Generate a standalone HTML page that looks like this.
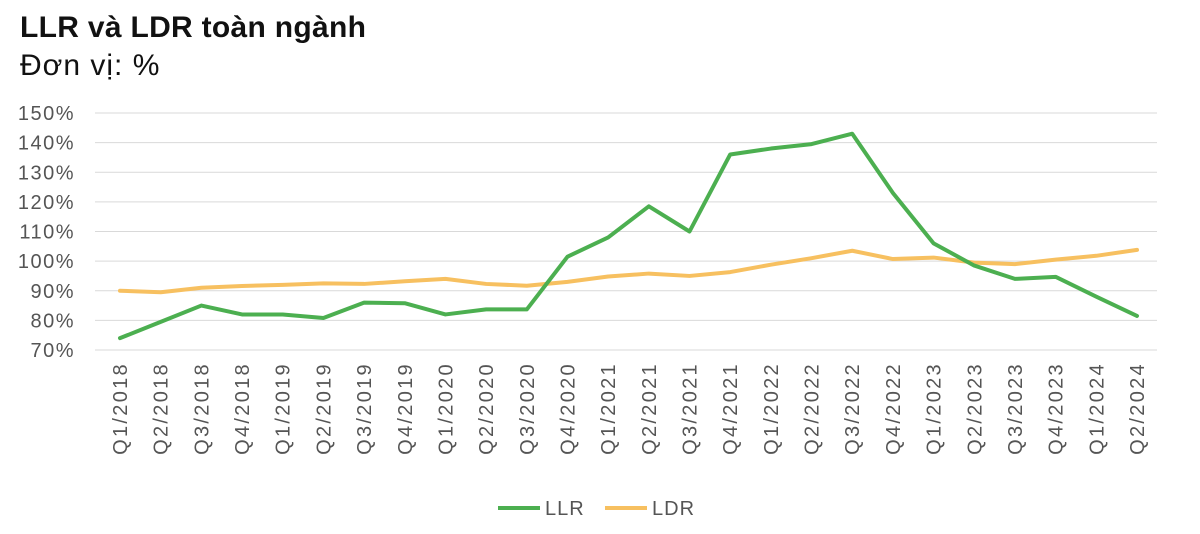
<!DOCTYPE html>
<html><head><meta charset="utf-8"><style>
body{margin:0;background:#fff;font-family:"Liberation Sans",sans-serif;}
#wrap{position:relative;width:1200px;height:534px;overflow:hidden}
.t{position:absolute;left:20px;font-size:30px;color:#111}
</style></head><body><div id="wrap">
<div class="t" style="top:11px;font-weight:bold;letter-spacing:0.3px">LLR và LDR toàn ngành</div>
<div class="t" style="top:49px;letter-spacing:1px">Đơn vị: %</div>
<svg id="svg" width="1200" height="534" style="position:absolute;left:0;top:0"></svg>
</div>
<script>
const categories=["Q1/2018","Q2/2018","Q3/2018","Q4/2018","Q1/2019","Q2/2019","Q3/2019","Q4/2019","Q1/2020","Q2/2020","Q3/2020","Q4/2020","Q1/2021","Q2/2021","Q3/2021","Q4/2021","Q1/2022","Q2/2022","Q3/2022","Q4/2022","Q1/2023","Q2/2023","Q3/2023","Q4/2023","Q1/2024","Q2/2024"];
const llr=[74,79.5,85,82,82,80.8,86,85.8,82,83.7,83.7,101.5,108,118.5,110,136,138,139.5,143,123,106,98.5,94,94.7,88,81.5];
const ldr=[90,89.5,91,91.6,92,92.5,92.3,93.2,94,92.3,91.7,93,94.8,95.8,95,96.3,98.8,101,103.5,100.7,101.2,99.5,99,100.5,101.8,103.8];
const yTicks=[70,80,90,100,110,120,130,140,150];
const svg=document.getElementById('svg');const NS='http://www.w3.org/2000/svg';
const x0=120,x1=1137,yb=350,yt=113;
const X=i=>x0+(x1-x0)*i/(categories.length-1);
const Y=v=>yb-(v-70)/80*(yb-yt);
function mk(t,a){const e=document.createElementNS(NS,t);for(const k in a)e.setAttribute(k,a[k]);svg.appendChild(e);return e;}
yTicks.forEach(v=>{
 const l=mk('line',{x1:95,x2:1157,y1:Y(v),y2:Y(v),stroke:'#d9d9d9','stroke-width':1});
 
 
 const t=mk('text',{x:75,y:Y(v)+7,'text-anchor':'end','font-size':20,'letter-spacing':1.5,fill:'#555','font-family':'Liberation Sans, sans-serif'});
 t.textContent=v+'%';
 
 
});
categories.forEach((c,i)=>{
 const t=mk('text',{transform:`translate(${X(i)+7},362) rotate(-90)`,'text-anchor':'end','font-size':20,'letter-spacing':2.3,fill:'#555','font-family':'Liberation Sans, sans-serif'});
 t.textContent=c;
 
 
});
function line(d,col,name){
 const p=mk('polyline',{points:d.map((v,i)=>X(i)+','+Y(v)).join(' '),fill:'none',stroke:col,'stroke-width':4,'stroke-linejoin':'round','stroke-linecap':'round'});
 
 
}
line(ldr,'#f7c060','ldr-line');
line(llr,'#4caf50','llr-line');
[[498,'#4caf50','LLR'],[605,'#f7c060','LDR']].forEach(([x,c,n])=>{
 const l=mk('line',{x1:x,x2:x+42,y1:508,y2:508,stroke:c,'stroke-width':4});
 
 
 const t=mk('text',{x:x+47,y:515,'font-size':20,'letter-spacing':1,fill:'#555','font-family':'Liberation Sans, sans-serif'});
 t.textContent=n;
 
 
});
</script></body></html>
